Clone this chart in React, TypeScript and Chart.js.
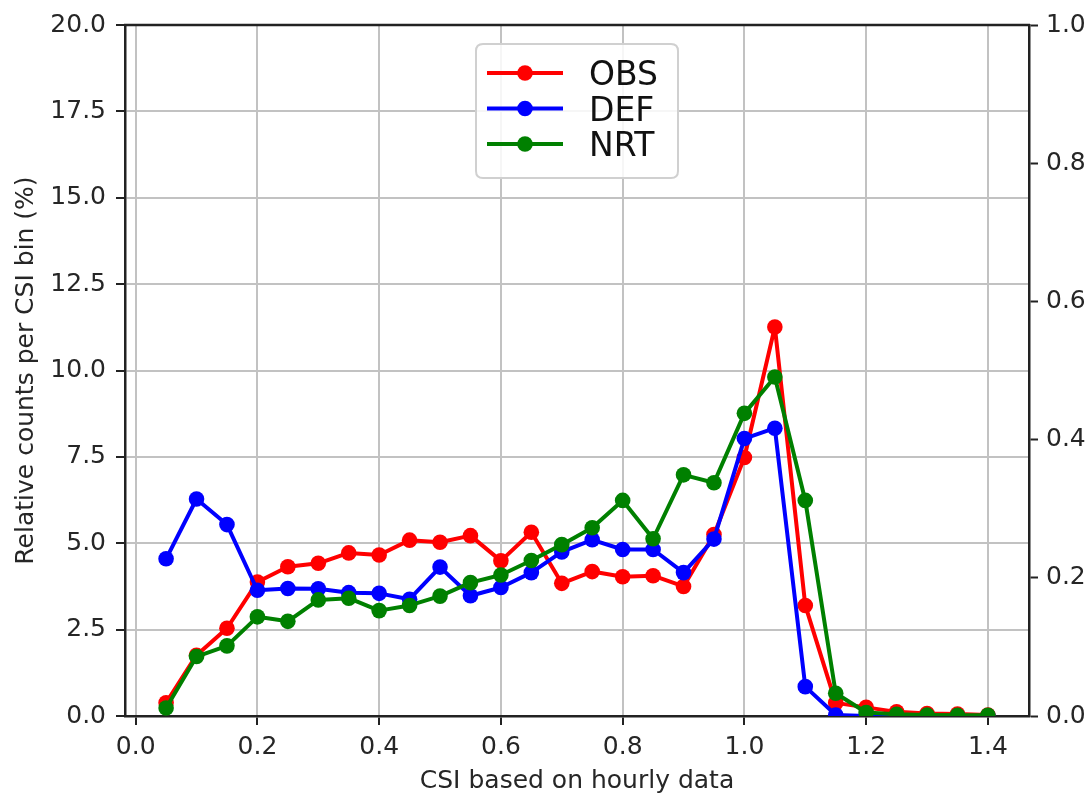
import React, { useEffect, useRef } from 'react';
import { Chart, registerables } from 'chart.js';

Chart.register(...registerables);

// ---- data ----
const csiBins = [
  0.05, 0.1, 0.15, 0.2, 0.25, 0.3, 0.35, 0.4, 0.45, 0.5, 0.55, 0.6, 0.65, 0.7,
  0.75, 0.8, 0.85, 0.9, 0.95, 1.0, 1.05, 1.1, 1.15, 1.2, 1.25, 1.3, 1.35, 1.4,
];
const obsValues = [
  0.38, 1.76, 2.54, 3.88, 4.32, 4.42, 4.72, 4.66, 5.09, 5.03, 5.22, 4.49, 5.32, 3.84,
  4.18, 4.03, 4.06, 3.75, 5.25, 7.48, 11.26, 3.2, 0.38, 0.25, 0.12, 0.07, 0.06, 0.03,
];
const defValues = [
  4.55, 6.28, 5.54, 3.64, 3.69, 3.68, 3.57, 3.55, 3.38, 4.31, 3.48, 3.72, 4.15, 4.75,
  5.1, 4.82, 4.82, 4.15, 5.12, 8.03, 8.33, 0.85, 0.03, 0, 0, 0, 0, 0,
];
const nrtValues = [
  0.23, 1.72, 2.03, 2.87, 2.74, 3.36, 3.41, 3.05, 3.2, 3.47, 3.86, 4.08, 4.5, 4.96,
  5.45, 6.24, 5.13, 6.98, 6.75, 8.76, 9.81, 6.24, 0.66, 0.1, 0.05, 0.03, 0.02, 0.02,
];
const seriesLabels = ['OBS', 'DEF', 'NRT'];
const seriesColors = ['#ff0000', '#0000ff', '#008000'];
const xTickValues = [0, 0.2, 0.4, 0.6, 0.8, 1.0, 1.2, 1.4];
const leftTickValues = [0, 2.5, 5, 7.5, 10, 12.5, 15, 17.5, 20];
const rightTickValues = [0, 0.2, 0.4, 0.6, 0.8, 1.0];
const xAxisLabel = 'CSI based on hourly data';
const yAxisLabel = 'Relative counts per CSI bin (%)';

const FONT = "'DejaVu Sans', sans-serif";
const TEXT_COLOR = '#262626';
const SPINE_COLOR = '#222222';
const GRID_COLOR = '#c2c2c2';

const framePlugin = {
  id: 'frameAndLegend',
  afterDatasetsDraw(chart: any) {
    const { ctx, chartArea } = chart;
    ctx.save();
    // top spine
    ctx.strokeStyle = SPINE_COLOR;
    ctx.lineWidth = 2.5;
    ctx.beginPath();
    ctx.moveTo(chartArea.left - 1, chartArea.top);
    ctx.lineTo(chartArea.right + 1, chartArea.top);
    ctx.stroke();

    // legend
    const bx = chartArea.left + 351;
    const by = chartArea.top + 19;
    const bw = 202;
    const bh = 134;
    const r = 7;
    ctx.beginPath();
    ctx.moveTo(bx + r, by);
    ctx.lineTo(bx + bw - r, by);
    ctx.quadraticCurveTo(bx + bw, by, bx + bw, by + r);
    ctx.lineTo(bx + bw, by + bh - r);
    ctx.quadraticCurveTo(bx + bw, by + bh, bx + bw - r, by + bh);
    ctx.lineTo(bx + r, by + bh);
    ctx.quadraticCurveTo(bx, by + bh, bx, by + bh - r);
    ctx.lineTo(bx, by + r);
    ctx.quadraticCurveTo(bx, by, bx + r, by);
    ctx.closePath();
    ctx.fillStyle = 'rgba(255,255,255,0.85)';
    ctx.fill();
    ctx.strokeStyle = '#d0d0d0';
    ctx.lineWidth = 2;
    ctx.stroke();

    const fontSize = 33;
    ctx.font = `${fontSize}px ${FONT}`;
    ctx.textBaseline = 'alphabetic';
    ctx.textAlign = 'left';
    chart.data.datasets.forEach((ds: any, i: number) => {
      const rowY = by + 29 + i * 35.5;
      ctx.strokeStyle = ds.borderColor;
      ctx.lineWidth = 4;
      ctx.beginPath();
      ctx.moveTo(bx + 11, rowY);
      ctx.lineTo(bx + 87, rowY);
      ctx.stroke();
      ctx.fillStyle = ds.backgroundColor;
      ctx.beginPath();
      ctx.arc(bx + 49, rowY, 7.8, 0, Math.PI * 2);
      ctx.fill();
      ctx.fillStyle = '#111';
      ctx.fillText(ds.label, bx + 113, rowY + 12);
    });
    ctx.restore();
  },
};

export default function App() {
  const canvasRef = useRef<HTMLCanvasElement | null>(null);

  useEffect(() => {
    const canvas = canvasRef.current;
    if (!canvas) return;
    const seriesValues = [obsValues, defValues, nrtValues];
    const datasets = seriesValues.map((vals, i) => ({
      label: seriesLabels[i],
      data: csiBins.map((x, j) => ({ x, y: vals[j] })),
      borderColor: seriesColors[i],
      backgroundColor: seriesColors[i],
      pointBackgroundColor: seriesColors[i],
      pointBorderColor: seriesColors[i],
      borderWidth: 4,
      borderJoinStyle: 'round',
      borderCapStyle: 'round',
      pointRadius: 7.8,
      pointBorderWidth: 0,
      pointHoverRadius: 7.8,
      tension: 0,
      fill: false,
      clip: 0,
      order: 3 - i,
      yAxisID: 'y',
    }));

    const tickFont = { family: FONT, size: 25 };

    const chart = new Chart(canvas, {
      type: 'line',
      data: { datasets: datasets as any },
      plugins: [framePlugin],
      options: {
        animation: false,
        responsive: true,
        maintainAspectRatio: false,
        layout: { padding: { top: 24, left: 0, right: 0, bottom: 0 } },
        plugins: {
          legend: { display: false },
          tooltip: { enabled: false },
        },
        scales: {
          x: {
            type: 'linear',
            min: -0.0175,
            max: 1.4675,
            afterBuildTicks: (s: any) => {
              s.ticks = xTickValues.map((v) => ({ value: v }));
            },
            afterFit: (s: any) => {
              s.height = 80;
            },
            ticks: {
              font: tickFont,
              color: TEXT_COLOR,
              padding: 7,
              maxRotation: 0,
              autoSkip: false,
              callback: (v: any) => Number(v).toFixed(1),
            },
            grid: {
              color: GRID_COLOR,
              lineWidth: 2,
              tickColor: SPINE_COLOR,
              tickLength: 9,
              tickWidth: 2,
            },
            border: { color: SPINE_COLOR, width: 2.5 },
            title: {
              display: true,
              text: xAxisLabel,
              font: tickFont,
              color: TEXT_COLOR,
              padding: { top: 0, bottom: 0 },
            },
          },
          y: {
            type: 'linear',
            position: 'left',
            min: 0,
            max: 20,
            afterBuildTicks: (s: any) => {
              s.ticks = leftTickValues.map((v) => ({ value: v }));
            },
            afterFit: (s: any) => {
              s.width = 125;
            },
            ticks: {
              font: tickFont,
              color: TEXT_COLOR,
              padding: 10,
              autoSkip: false,
              callback: (v: any) => Number(v).toFixed(1),
            },
            grid: {
              color: GRID_COLOR,
              lineWidth: 2,
              tickColor: SPINE_COLOR,
              tickLength: 9,
              tickWidth: 2,
            },
            border: { color: SPINE_COLOR, width: 2.5 },
            title: {
              display: true,
              text: yAxisLabel,
              font: tickFont,
              color: TEXT_COLOR,
              padding: { top: 11, bottom: 0 },
            },
          },
          y1: {
            type: 'linear',
            position: 'right',
            min: 0,
            max: 1,
            afterBuildTicks: (s: any) => {
              s.ticks = rightTickValues.map((v) => ({ value: v }));
            },
            afterFit: (s: any) => {
              s.width = 61;
            },
            ticks: {
              font: tickFont,
              color: TEXT_COLOR,
              padding: 8,
              autoSkip: false,
              callback: (v: any) => Number(v).toFixed(1),
            },
            grid: {
              drawOnChartArea: false,
              tickColor: SPINE_COLOR,
              tickLength: 9,
              tickWidth: 2,
            },
            border: { color: SPINE_COLOR, width: 2.5 },
          },
        },
      } as any,
    });
    return () => chart.destroy();
  }, []);

  return (
    <div
      style={{
        position: 'fixed',
        left: 0,
        top: 0,
        width: 1090,
        height: 796,
        background: '#ffffff',
      }}
    >
      <canvas ref={canvasRef} />
    </div>
  );
}
